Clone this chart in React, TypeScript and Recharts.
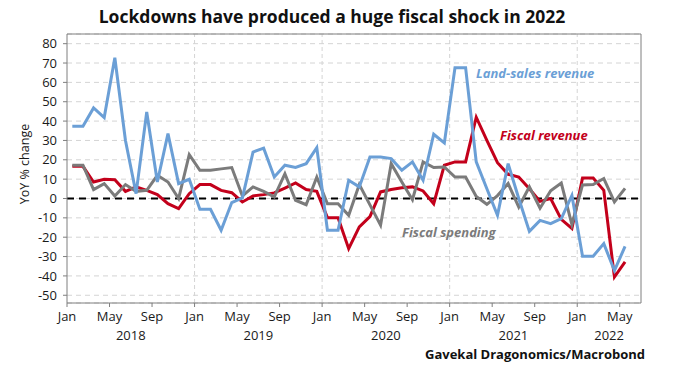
import React from 'react';
import { LineChart, Line, XAxis, YAxis, CartesianGrid, ReferenceLine } from 'recharts';

// Jan 2018 .. May 2022, monthly, YoY % change
const months = [
  'Jan 2018', 'Feb 2018', 'Mar 2018', 'Apr 2018', 'May 2018', 'Jun 2018', 'Jul 2018', 'Aug 2018', 'Sep 2018', 'Oct 2018', 'Nov 2018', 'Dec 2018',
  'Jan 2019', 'Feb 2019', 'Mar 2019', 'Apr 2019', 'May 2019', 'Jun 2019', 'Jul 2019', 'Aug 2019', 'Sep 2019', 'Oct 2019', 'Nov 2019', 'Dec 2019',
  'Jan 2020', 'Feb 2020', 'Mar 2020', 'Apr 2020', 'May 2020', 'Jun 2020', 'Jul 2020', 'Aug 2020', 'Sep 2020', 'Oct 2020', 'Nov 2020', 'Dec 2020',
  'Jan 2021', 'Feb 2021', 'Mar 2021', 'Apr 2021', 'May 2021', 'Jun 2021', 'Jul 2021', 'Aug 2021', 'Sep 2021', 'Oct 2021', 'Nov 2021', 'Dec 2021',
  'Jan 2022', 'Feb 2022', 'Mar 2022', 'Apr 2022', 'May 2022',
];

const landSales = [
  37.3, 37.3, 46.8, 41.8, 72.7, 30, 2.5, 44.7, 8.5, 33.5, 7.7, 9.9,
  -5.6, -5.6, -16.4, -2.1, 0.3, 24, 26, 11.1, 17.2, 16, 18, 26.3,
  -16.4, -16.4, 9.4, 6, 21.4, 21.4, 20.6, 14.6, 18.9, 9.4, 33.2, 28.7,
  67.6, 67.6, 18.9, 5, -8.7, 18, 0, -17, -11.3, -13, -10.4, 1.6,
  -29.8, -29.8, -23.3, -37.3, -24.7,
];

const fiscalRevenue = [
  16.6, 16.6, 8.5, 9.9, 9.7, 3.7, 6, 4.2, 2, -2.7, -5.2, 2.5,
  7.2, 7.2, 4.2, 3, -1.8, 1.3, 2, 2.9, 5.4, 8, 4.6, 3.7,
  -9.9, -9.9, -25.9, -14.7, -9.4, 3.4, 4.6, 5.6, 6, 3.9, -2.7, 17.2,
  18.9, 18.9, 42, 30, 18.5, 12.5, 11.1, 5, -1.5, 0, -10.8, -15.5,
  10.6, 10.6, 4.2, -40.6, -32.8,
];

const fiscalSpending = [
  17.2, 17.2, 4.6, 7.7, 1.3, 7.2, 3.7, 4.2, 12, 8.5, 0, 22.7,
  14.6, 14.6, 15.3, 16, 1.3, 6, 3.7, 0.8, 12.8, -0.9, -3.2, 11.1,
  -2.7, -2.7, -8.7, 7.2, -3.3, -13.8, 18, 8.5, -0.6, 18.9, 16, 16.3,
  11.1, 11.1, 1, -3, 1.5, 7.7, -4.4, 6, -5, 4, 8, -13.5,
  7, 7.2, 10.3, -1.8, 5.2,
];

const monthTicks = [0, 4, 8, 12, 16, 20, 24, 28, 32, 36, 40, 44, 48, 52];
const monthTickNames = ['Jan', 'May', 'Sep'];
const yearTicks = [6, 18, 30, 42, 51];
const yearLabels = ['2018', '2019', '2020', '2021', '2022'];
const yearStarts = [12, 24, 36, 48];
const yTicks = [-50, -40, -30, -20, -10, 0, 10, 20, 30, 40, 50, 60, 70, 80];

const data = months.map((m, i) => ({
  t: i + 0.5,
  month: m,
  land: landSales[i],
  rev: fiscalRevenue[i],
  spend: fiscalSpending[i],
}));

const FONT = '"Open Sans", "Noto Sans", sans-serif';
const BLUE = '#6b9fd6';
const RED = '#c3001b';
const GRAY = '#7b7b7b';
const GRID = '#d4d4d4';
const AXIS = '#7f7f7f';

export default function App() {
  return (
    <div style={{ position: 'absolute', left: 0, top: 0, width: 686, height: 373, background: '#fff', fontFamily: FONT }}>
      <div style={{ position: 'absolute', left: 0, width: 664, top: 4, textAlign: 'center', fontSize: 17.5, fontWeight: 700, color: '#111', whiteSpace: 'nowrap' }}>
        Lockdowns have produced a huge fiscal shock in 2022
      </div>
      <LineChart width={686} height={373} data={data} margin={{ top: 34, right: 45, bottom: 0, left: 7 }}>
        <CartesianGrid vertical={false} stroke={GRID} strokeDasharray="5 4" xAxisId="m" />
        <XAxis
          xAxisId="m"
          dataKey="t"
          type="number"
          domain={[0, 54]}
          ticks={monthTicks}
          interval={0}
          tickFormatter={(v: number) => monthTickNames[(v % 12) / 4]}
          height={22}
          tickSize={4}
          tickMargin={5}
          stroke={AXIS}
          tick={{ fontSize: 13, fill: '#1a1a1a', fontFamily: FONT }}
        />
        <XAxis
          xAxisId="y"
          dataKey="t"
          type="number"
          domain={[0, 54]}
          ticks={yearTicks}
          interval={0}
          tickFormatter={(v: number) => yearLabels[yearTicks.indexOf(v)]}
          height={48}
          axisLine={false}
          tickLine={false}
          tickSize={0}
          tickMargin={6}
          tick={{ fontSize: 13, fill: '#1a1a1a', fontFamily: FONT }}
        />
        <YAxis
          domain={[-54, 85]}
          ticks={yTicks}
          interval={0}
          width={60}
          tickSize={4}
          tickMargin={6}
          stroke={AXIS}
          tick={{ fontSize: 13, fill: '#1a1a1a', fontFamily: FONT }}
        />
        {yearStarts.map((x) => (
          <ReferenceLine key={`yr-${x}`} x={x} xAxisId="m" stroke={GRID} strokeDasharray="4 3" />
        ))}
        <ReferenceLine y={85} xAxisId="m" stroke={AXIS} />
        <ReferenceLine x={54} xAxisId="m" stroke={AXIS} />
        <ReferenceLine y={0} xAxisId="m" stroke="#000" strokeWidth={2} strokeDasharray="7 5" />
        <Line xAxisId="m" type="linear" dataKey="rev" stroke={RED} strokeWidth={3} dot={false} isAnimationActive={false} />
        <Line xAxisId="m" type="linear" dataKey="spend" stroke={GRAY} strokeWidth={3} dot={false} isAnimationActive={false} />
        <Line xAxisId="m" type="linear" dataKey="land" stroke={BLUE} strokeWidth={3} dot={false} isAnimationActive={false} />
      </LineChart>
      <div style={{ position: 'absolute', left: 24, top: 164, transform: 'translate(-50%, -50%) rotate(-90deg)', whiteSpace: 'nowrap', fontSize: 12.5, color: '#1a1a1a' }}>
        YoY % change
      </div>
      <div style={{ position: 'absolute', left: 476, top: 64, fontSize: 13, fontWeight: 700, fontStyle: 'italic', color: BLUE, whiteSpace: 'nowrap' }}>
        Land-sales revenue
      </div>
      <div style={{ position: 'absolute', left: 500, top: 126, fontSize: 13, fontWeight: 700, fontStyle: 'italic', color: RED, whiteSpace: 'nowrap' }}>
        Fiscal revenue
      </div>
      <div style={{ position: 'absolute', left: 402, top: 223, fontSize: 13, fontWeight: 700, fontStyle: 'italic', color: GRAY, whiteSpace: 'nowrap' }}>
        Fiscal spending
      </div>
      <div style={{ position: 'absolute', right: 41, top: 345, fontSize: 13, fontWeight: 700, color: '#111', whiteSpace: 'nowrap' }}>
        Gavekal Dragonomics/Macrobond
      </div>
    </div>
  );
}
